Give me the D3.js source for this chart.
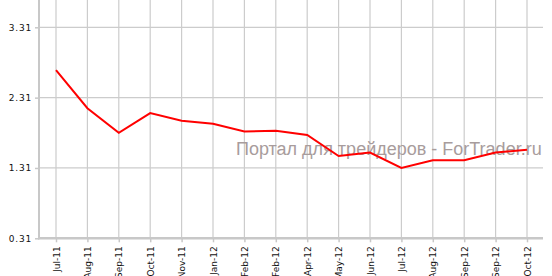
<!DOCTYPE html>
<html>
<head>
<meta charset="utf-8">
<script src="https://cdn.jsdelivr.net/npm/d3@7"></script>
<style>
  body { margin: 0; background: #fff; }
</style>
</head>
<body>
<div class="canvas"></div>
<script>
const months = ['Jul-11', 'Aug-11', 'Sep-11', 'Oct-11', 'Nov-11', 'Jan-12', 'Feb-12', 'Feb-12',
    'Apr-12', 'May-12', 'Jun-12', 'Jul-12', 'Aug-12', 'Sep-12', 'Sep-12', 'Oct-12'];
const values = [2.70, 2.16, 1.81, 2.09, 1.98, 1.94, 1.83, 1.84, 1.78, 1.48, 1.53, 1.31, 1.42, 1.42, 1.53, 1.57];
const yTicks = [0.31, 1.31, 2.31, 3.31];

const dims = { width: 552, height: 276 };
const plot = { left: 39, right: 543, top: 0, bottom: 238.3 };

const svg = d3.select('.canvas')
    .append('svg')
    .attr('width', dims.width)
    .attr('height', dims.height);

const x = d3.scaleLinear()
    .domain([0, months.length - 1])
    .range([56, 527]);

const y = d3.scaleLinear()
    .domain([0.31, 3.31])
    .range([plot.bottom, 27.3]);

// grid
svg.append('g')
    .selectAll('line')
    .data(months)
    .enter()
    .append('line')
        .attr('x1', (d, i) => x(i))
        .attr('x2', (d, i) => x(i))
        .attr('y1', plot.top)
        .attr('y2', plot.bottom)
        .attr('stroke', '#cccccc')
        .attr('stroke-width', 1.2);

svg.append('g')
    .selectAll('line')
    .data(yTicks)
    .enter()
    .append('line')
        .attr('x1', plot.left)
        .attr('x2', plot.right)
        .attr('y1', d => y(d))
        .attr('y2', d => y(d))
        .attr('stroke', '#cccccc')
        .attr('stroke-width', 1.2);

// watermark
svg.append('text')
    .attr('x', 236)
    .attr('y', 155)
    .attr('font-family', 'Liberation Sans, Arial, sans-serif')
    .attr('font-size', 18)
    .attr('fill', '#a89c9c')
    .text('Портал для трейдеров - ForTrader.ru');

// axes
const yAxis = d3.axisLeft(y).tickValues(yTicks).tickSize(4).tickPadding(3).tickFormat(d3.format('.2f'));
const yG = svg.append('g')
    .attr('transform', `translate(${plot.left}, 0)`)
    .call(yAxis);
yG.select('.domain').remove();
yG.selectAll('line').attr('stroke', '#c8c8c8').attr('stroke-width', 1.5);
yG.selectAll('text')
    .attr('font-family', 'DejaVu Sans, Verdana, sans-serif')
    .attr('font-size', 9)
    .attr('letter-spacing', 0.8)
    .attr('fill', '#111');

const xAxis = d3.axisBottom(x).tickValues(d3.range(months.length)).tickSize(4).tickFormat(i => months[i]);
const xG = svg.append('g')
    .attr('transform', `translate(0, ${plot.bottom})`)
    .call(xAxis);
xG.select('.domain').remove();
xG.selectAll('line').attr('stroke', '#c8c8c8').attr('stroke-width', 1.5);
xG.selectAll('text')
    .attr('font-family', 'DejaVu Sans, Verdana, sans-serif')
    .attr('font-size', 9)
    .attr('fill', '#111')
    .attr('text-anchor', 'end')
    .attr('transform', 'rotate(-90)')
    .attr('x', -8)
    .attr('y', 0)
    .attr('dy', '0.35em');

svg.append('line')
    .attr('x1', plot.left).attr('x2', plot.left)
    .attr('y1', plot.top).attr('y2', plot.bottom + 1)
    .attr('stroke', '#c8c8c8')
    .attr('stroke-width', 2);

svg.append('line')
    .attr('x1', plot.left - 1).attr('x2', plot.right)
    .attr('y1', plot.bottom).attr('y2', plot.bottom)
    .attr('stroke', '#c8c8c8')
    .attr('stroke-width', 2.5);

// line
const line = d3.line()
    .x((d, i) => x(i))
    .y(d => y(d));

svg.append('path')
    .datum(values)
    .attr('d', line)
    .attr('fill', 'none')
    .attr('stroke', '#ff0000')
    .attr('stroke-width', 2);
</script>
</body>
</html>
